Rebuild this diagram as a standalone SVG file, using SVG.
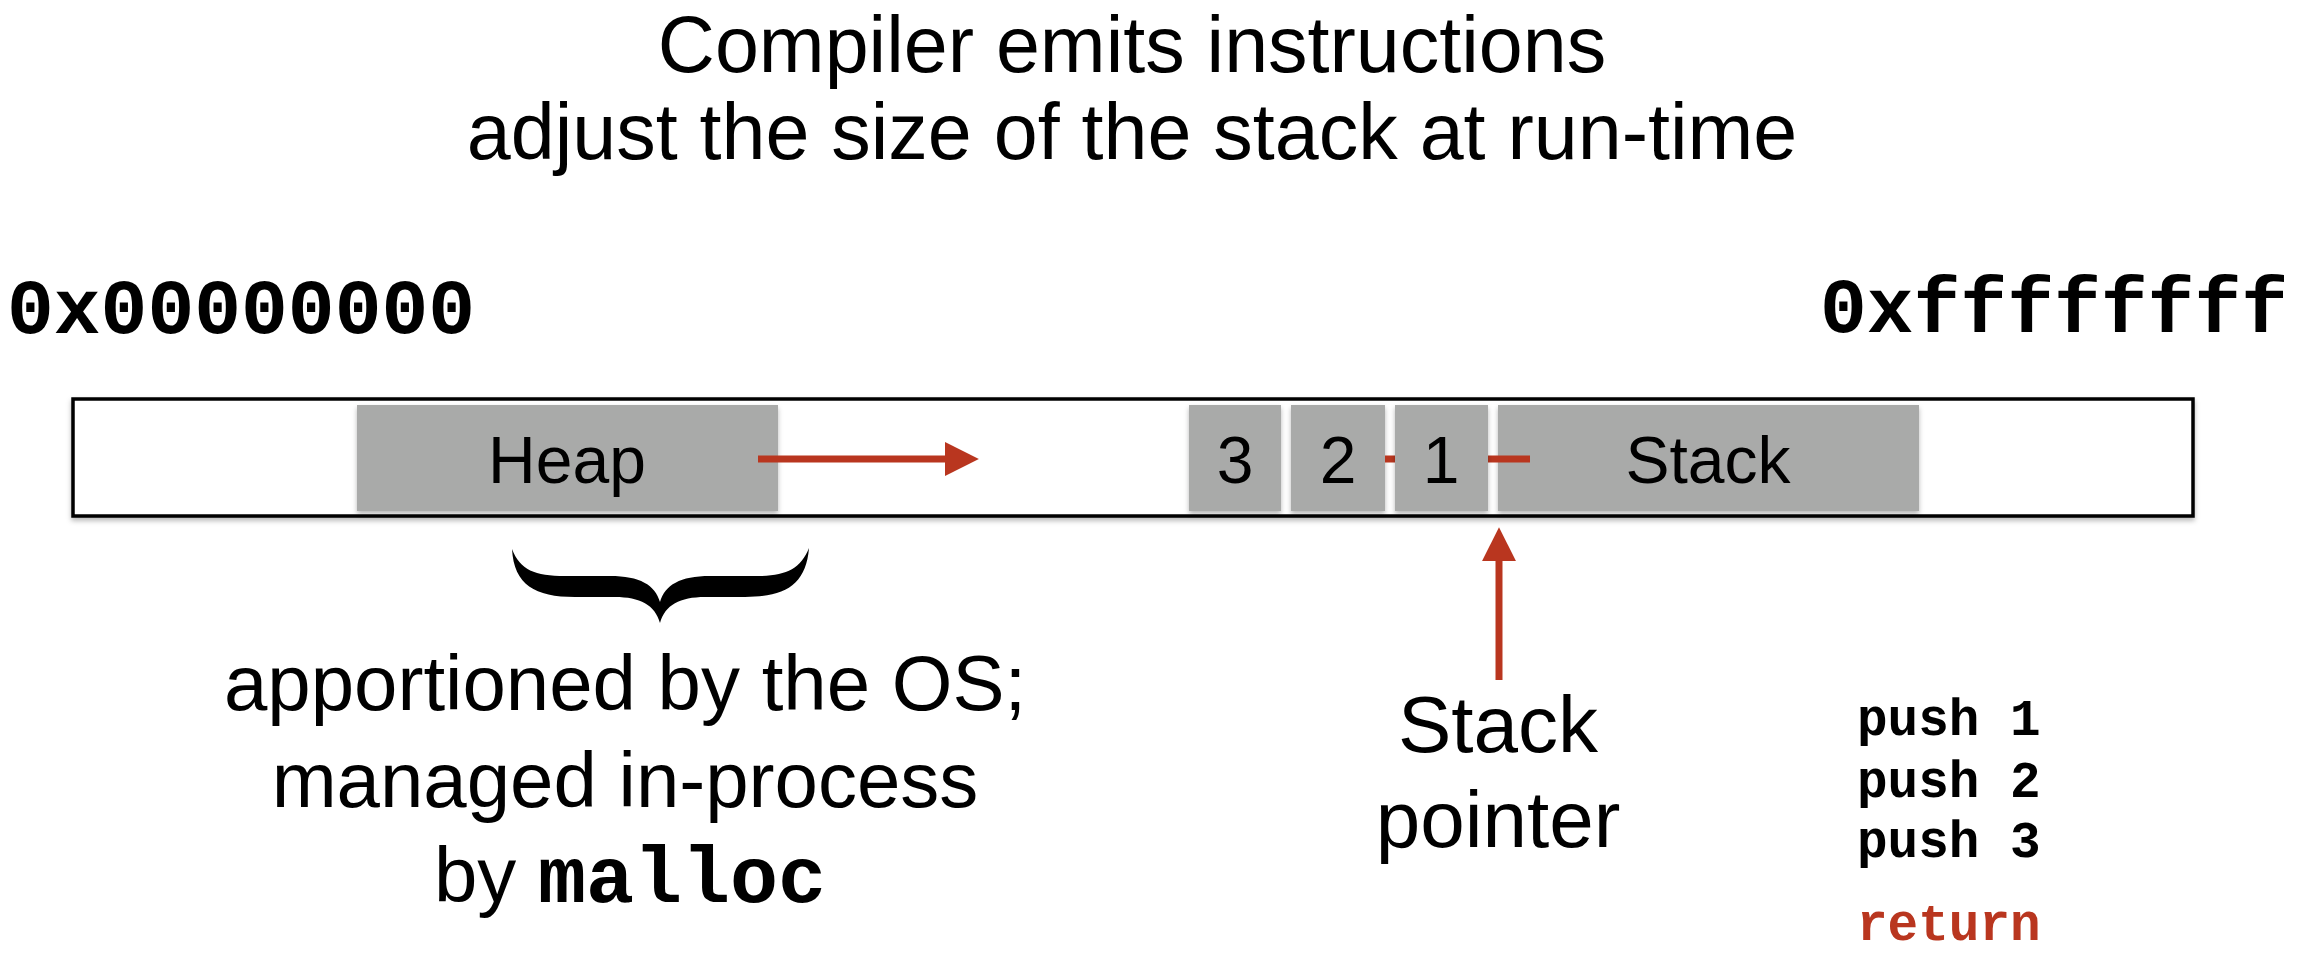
<svg xmlns="http://www.w3.org/2000/svg" width="2308" height="976" viewBox="0 0 2308 976">
  <style>
    .sans { font-family: "Liberation Sans", Arial, Helvetica, sans-serif; fill: #000; }
    .mono { font-family: "Liberation Mono", "Courier New", monospace; font-weight: bold; fill: #000; }
    .cell { fill: #a9aaa9; filter: url(#shadow); }
    .red { stroke: #b9361f; stroke-width: 7; fill: none; }
  </style>
  <defs>
    <filter id="shadow" x="-10%" y="-20%" width="120%" height="150%">
      <feDropShadow dx="0" dy="3" stdDeviation="2.5" flood-color="#000" flood-opacity="0.28"/>
    </filter>
    <marker id="head" markerUnits="userSpaceOnUse" markerWidth="34" markerHeight="34" viewBox="0 0 32 32" refX="2" refY="16" orient="auto">
      <path d="M0,0 L32,16 L0,32 Z" fill="#b9361f"/>
    </marker>
  </defs>
  <rect width="2308" height="976" fill="#ffffff"/>

  <g id="title">
    <text class="sans" x="1132" y="72" font-size="79" text-anchor="middle">Compiler emits instructions</text>
    <text class="sans" x="1132" y="159" font-size="79" text-anchor="middle">adjust the size of the stack at run-time</text>
  </g>

  <g id="addr-low">
    <text class="mono" x="7" y="333" font-size="78">0x00000000</text>
  </g>
  <g id="addr-high">
    <text class="mono" x="2288" y="332" font-size="78" text-anchor="end">0xffffffff</text>
  </g>

  <g id="memory">
    <rect x="73" y="399" width="2120" height="117" fill="#ffffff" stroke="#000" stroke-width="3.5" filter="url(#shadow)"/>
  </g>

  <g id="heap">
    <rect class="cell" x="357" y="405" width="421" height="106"/>
    <text class="sans" x="567" y="483" font-size="66" text-anchor="middle">Heap</text>
  </g>

  <g id="cell3">
    <rect class="cell" x="1189" y="405" width="92" height="106"/>
    <text class="sans" x="1235" y="483" font-size="66" text-anchor="middle">3</text>
  </g>
  <g id="cell2">
    <rect class="cell" x="1291" y="405" width="94" height="106"/>
    <text class="sans" x="1338" y="483" font-size="66" text-anchor="middle">2</text>
  </g>
  <g id="stack">
    <rect class="cell" x="1498" y="405" width="421" height="106"/>
    <text class="sans" x="1708" y="483" font-size="66" text-anchor="middle">Stack</text>
  </g>

  <g id="connectors">
    <line class="red" x1="758" y1="459" x2="947" y2="459" marker-end="url(#head)"/>
    <line class="red" x1="1385" y1="459" x2="1530" y2="459"/>
    <line class="red" x1="1499" y1="680" x2="1499" y2="559" marker-end="url(#head)"/>
  </g>

  <g id="cell1">
    <rect class="cell" x="1395" y="405" width="93" height="106"/>
    <text class="sans" x="1441" y="483" font-size="66" text-anchor="middle">1</text>
  </g>

  <g id="heap-note">
    <path d="M512 549 C514 585 535 597 575 597 L615 597 C640 597 655 605 660 623 C665 605 680 597 705 597 L745 597 C785 597 806 585 809 548 C800 570 785 576 755 576 L710 576 C680 576 665 585 660 602 C655 585 640 576 610 576 L565 576 C535 576 520 570 512 549 Z" fill="#000"/>
    <text class="sans" x="625" y="710" font-size="78" text-anchor="middle">apportioned by the OS;</text>
    <text class="sans" x="625" y="807" font-size="78" text-anchor="middle">managed in-process</text>
    <text class="sans" x="630" y="902" font-size="78" text-anchor="middle">by <tspan class="mono" font-size="80">malloc</tspan></text>
  </g>

  <g id="stack-pointer">
    <text class="sans" x="1498" y="752" font-size="80" text-anchor="middle">Stack</text>
    <text class="sans" x="1498" y="847" font-size="80" text-anchor="middle">pointer</text>
  </g>

  <g id="code">
    <text class="mono" x="1857" y="735" font-size="51">push 1</text>
    <text class="mono" x="1857" y="797" font-size="51">push 2</text>
    <text class="mono" x="1857" y="857" font-size="51">push 3</text>
    <text class="mono" x="1857" y="940" font-size="51" style="fill:#b9361f">return</text>
  </g>
</svg>
